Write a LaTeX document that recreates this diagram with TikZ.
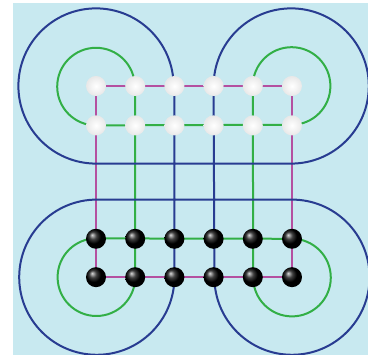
\documentclass[tikz,border=0pt]{standalone}
\usetikzlibrary{positioning, calc, backgrounds}
\definecolor{sky}{RGB}{200,233,240}
\definecolor{navy}{RGB}{40,60,145}
\definecolor{leaf}{RGB}{50,175,70}
\definecolor{plum}{RGB}{180,80,160}
\tikzstyle{White} = [circle, minimum size=20pt, inner sep=0pt,
shading=radial, inner color=white, outer color=white!82!gray]
\tikzstyle{Black} = [circle, minimum size=20pt, inner sep=0pt,
shading=ball, ball color=black]
\tikzstyle{Wire} = [line width=2pt, line join=round]

\begin{document}
\begin{tikzpicture}[x=1pt, y=1pt, node distance=18.8pt]
    \useasboundingbox (0,0) rectangle (368,355);
    % white balls
    \node [White] at (96,269) (1) {};
    \node [White, right =of 1] (2) {};
    \node [White, right =of 2] (3) {};
    \node [White, right =of 3] (4) {};
    \node [White, right =of 4] (5) {};
    \node [White, right =of 5] (6) {};
    \node [White, below =19pt of 1] (7) {};
    \node [White, right =of 7] (8) {};
    \node [White, right =of 8] (9) {};
    \node [White, right =of 9] (10) {};
    \node [White, right =of 10] (11) {};
    \node [White, right =of 11] (12) {};
    % black balls
    \node [Black, below =93pt of 7] (13) {};
    \node [Black, right =of 13] (14) {};
    \node [Black, right =of 14] (15) {};
    \node [Black, right =of 15] (16) {};
    \node [Black, right =of 16] (17) {};
    \node [Black, right =of 17] (18) {};
    \node [Black, below =18pt of 13] (19) {};
    \node [Black, right =of 19] (20) {};
    \node [Black, right =of 20] (21) {};
    \node [Black, right =of 21] (22) {};
    \node [Black, right =of 22] (23) {};
    \node [Black, right =of 23] (24) {};
    \begin{pgfonlayer}{background}
    \fill [sky] (13,0) rectangle (368,352);
    \draw [Wire, plum] (1.center) -- (6.center) -- (24.center) -- (19.center) -- cycle;
    \draw [Wire, leaf] (2.center) -- (20.center)
        arc [start angle=0, end angle=-270, radius=38.8] -- (18.center)
        arc [start angle=90, end angle=-180, radius=38.8] -- (5.center)
        arc [start angle=180, end angle=-90, radius=38.8] -- (7.center)
        arc [start angle=270, end angle=0, radius=38.8] -- cycle;
    \draw [Wire, navy] (3.center) -- (21.center)
        arc [start angle=0, end angle=-270, radius=77.6] -- ($(24)+(0,77.6)$)
        arc [start angle=90, end angle=-180, radius=77.6] -- (4.center)
        arc [start angle=180, end angle=-90, radius=77.6] -- ($(1)+(0,-77.6)$)
        arc [start angle=270, end angle=0, radius=77.6] -- cycle;
    \end{pgfonlayer}
\end{tikzpicture}
\end{document}
